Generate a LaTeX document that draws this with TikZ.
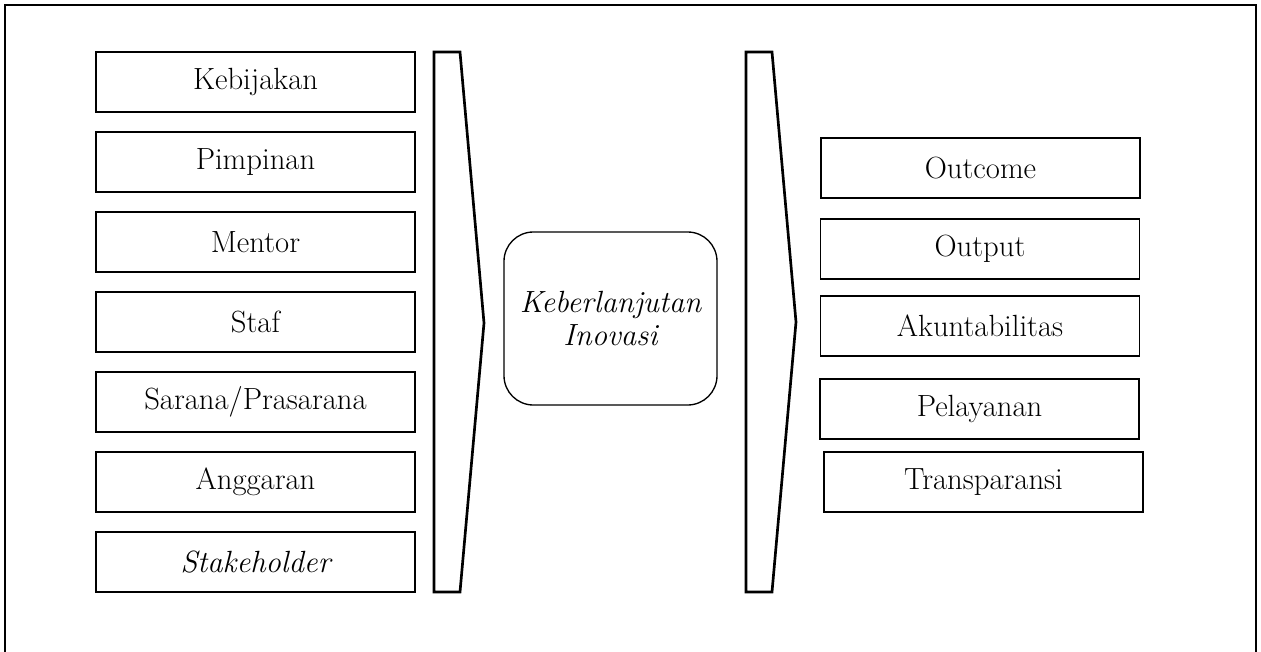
\documentclass[tikz,border=0pt]{standalone}
\begin{document}
\begin{tikzpicture}[x=0.75pt,y=-0.75pt,
  lbl/.style={font=\fontsize{23}{27}\selectfont},
  itembox/.style={draw, line width=1pt, rectangle, inner sep=0pt,
    minimum width=239.25pt, minimum height=45pt, lbl},
  centerbox/.style={draw, line width=1pt, rectangle, rounded corners=22pt,
    inner sep=0pt, minimum width=159.75pt, minimum height=129.75pt,
    align=center, lbl},
  chev/.style={draw, line width=2pt, line join=miter},
  frame/.style={draw, line width=1.5pt}]
\useasboundingbox (0,0) rectangle (1261,651);
\draw[frame] (5,5) rectangle (1256,670);
% left column
\node[itembox] (k1) at (255.5,82) {Kebijakan};
\node[itembox] (k2) at (255.5,162) {Pimpinan};
\node[itembox] (k3) at (255.5,242) {Mentor};
\node[itembox] (k4) at (255.5,322) {Staf};
\node[itembox] (k5) at (255.5,402) {Sarana/Prasarana};
\node[itembox] (k6) at (255.5,482) {Anggaran};
\node[itembox] (k7) at (255.5,562) {\itshape Stakeholder};
% chevrons
\draw[chev] (434,52) -- (460,52) -- (484,323) -- (460,592) -- (434,592) -- cycle;
\draw[chev] (746,52) -- (772,52) -- (796,322) -- (772,592) -- (746,592) -- cycle;
% center
\node[centerbox] (c) at (610.5,318.5) {\itshape Keberlanjutan\\[-2pt]\itshape Inovasi};
% right column
\node[itembox] (r1) at (980.5,168) {Outcome};
\node[itembox] (r2) at (980,249) {Output};
\node[itembox] (r3) at (980,326) {Akuntabilitas};
\node[itembox] (r4) at (979.5,409) {Pelayanan};
\node[itembox] (r5) at (983.5,482) {Transparansi};
\end{tikzpicture}
\end{document}
